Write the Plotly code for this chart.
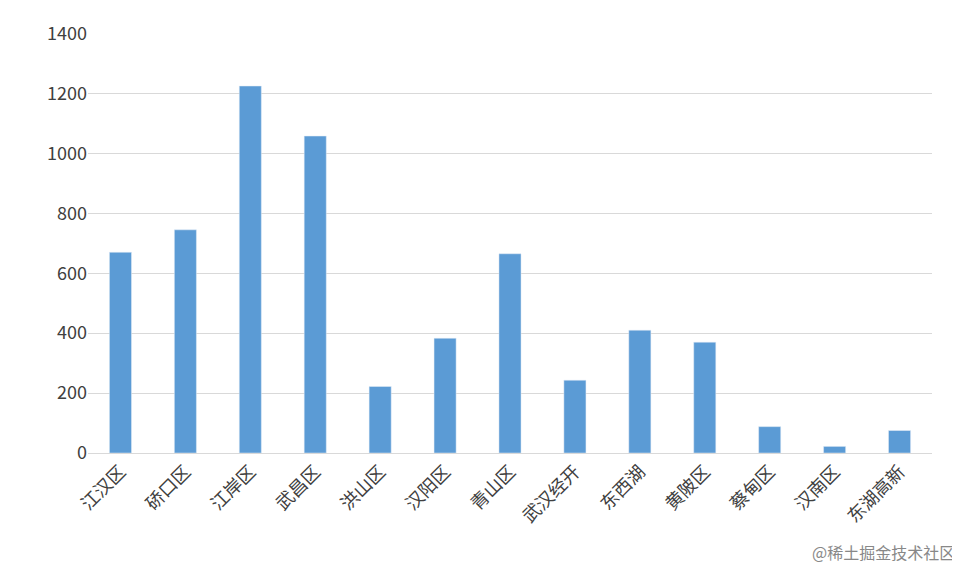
import plotly.graph_objects as go

districts = ["江汉区", "硚口区", "江岸区", "武昌区", "洪山区", "汉阳区", "青山区",
             "武汉经开", "东西湖", "黄陂区", "蔡甸区", "汉南区", "东湖高新"]
counts = [670, 745, 1225, 1058, 222, 383, 665, 243, 410, 370, 88, 22, 75]
y_ticks = [0, 200, 400, 600, 800, 1000, 1200, 1400]

fig = go.Figure()
fig.add_trace(go.Bar(x=districts, y=counts, marker_color="#5B9BD5", width=0.34))

fig.update_layout(
    width=960, height=580,
    margin=dict(l=80, r=36, t=25, b=135),
    plot_bgcolor="white", paper_bgcolor="white",
    font=dict(family="Noto Sans CJK SC", size=18, color="#404040"),
    showlegend=False,
    bargap=0.5,
    xaxis=dict(tickangle=-45, showline=True, linecolor="#D9D9D9", ticks=""),
    yaxis=dict(range=[0, 1402], tickvals=y_ticks, gridcolor="#D9D9D9",
               zeroline=False, showline=False, ticks=""),
)
fig.add_annotation(text="@稀土掘金技术社区", xref="paper", yref="paper",
                   x=1.03, y=-0.27, xanchor="right", yanchor="bottom",
                   showarrow=False, font=dict(size=16, color="#888888"))

fig.write_html("out.html")
